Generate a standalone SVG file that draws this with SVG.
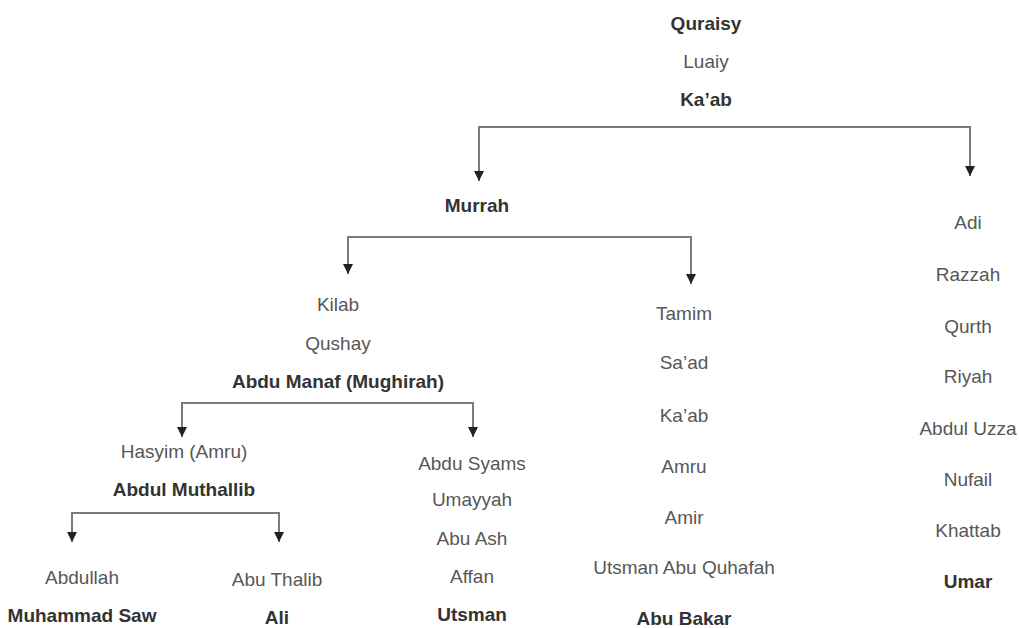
<svg xmlns="http://www.w3.org/2000/svg" width="1019" height="628" viewBox="0 0 1019 628">
<defs>
<marker id="arr" markerUnits="userSpaceOnUse" markerWidth="11" markerHeight="11" refX="10" refY="5" orient="auto">
<path d="M0,0 L10,5 L0,10 z" fill="#222"/>
</marker>
<style>
text{font-family:"Liberation Sans",Arial,sans-serif;font-size:19px;text-anchor:middle;fill:#575757}
text.b{font-weight:bold;fill:#333}
.c{fill:none;stroke:#7a7a7a;stroke-width:2;marker-end:url(#arr)}
</style>
</defs>
<rect width="1019" height="628" fill="#fff"/>
<g id="connectors">
<path class="c" d="M725 127 H479 V181"/>
<path class="c" d="M725 127 H970 V176"/>
<path class="c" d="M520 237 H348 V274"/>
<path class="c" d="M520 237 H691 V284"/>
<path class="c" d="M330 403 H182 V437"/>
<path class="c" d="M330 403 H473 V437"/>
<path class="c" d="M175 513 H72 V542"/>
<path class="c" d="M175 513 H279 V542"/>
</g>
<g id="n-quraisy"><text class="b" x="706" y="30">Quraisy</text></g>
<g id="n-luaiy"><text x="706" y="68">Luaiy</text></g>
<g id="n-kaab"><text class="b" x="706" y="106">Ka’ab</text></g>
<g id="n-murrah"><text class="b" x="477" y="212">Murrah</text></g>
<g id="n-kilab"><text x="338" y="311">Kilab</text></g>
<g id="n-qushay"><text x="338" y="350">Qushay</text></g>
<g id="n-abdumanaf"><text class="b" x="338" y="388">Abdu Manaf (Mughirah)</text></g>
<g id="n-hasyim"><text x="184" y="458">Hasyim (Amru)</text></g>
<g id="n-abdulmuthallib"><text class="b" x="184" y="496">Abdul Muthallib</text></g>
<g id="n-abdullah"><text x="82" y="584">Abdullah</text></g>
<g id="n-muhammad"><text class="b" x="82" y="622">Muhammad Saw</text></g>
<g id="n-abuthalib"><text x="277" y="586">Abu Thalib</text></g>
<g id="n-ali"><text class="b" x="277" y="624">Ali</text></g>
<g id="n-abdusyams"><text x="472" y="470">Abdu Syams</text></g>
<g id="n-umayyah"><text x="472" y="506">Umayyah</text></g>
<g id="n-abuash"><text x="472" y="545">Abu Ash</text></g>
<g id="n-affan"><text x="472" y="583">Affan</text></g>
<g id="n-utsman"><text class="b" x="472" y="621">Utsman</text></g>
<g id="n-tamim"><text x="684" y="320">Tamim</text></g>
<g id="n-saad"><text x="684" y="369">Sa’ad</text></g>
<g id="n-kaab2"><text x="684" y="422">Ka’ab</text></g>
<g id="n-amru"><text x="684" y="473">Amru</text></g>
<g id="n-amir"><text x="684" y="524">Amir</text></g>
<g id="n-utsmanabuquhafah"><text x="684" y="574">Utsman Abu Quhafah</text></g>
<g id="n-abubakar"><text class="b" x="684" y="625">Abu Bakar</text></g>
<g id="n-adi"><text x="968" y="229">Adi</text></g>
<g id="n-razzah"><text x="968" y="281">Razzah</text></g>
<g id="n-qurth"><text x="968" y="333">Qurth</text></g>
<g id="n-riyah"><text x="968" y="383">Riyah</text></g>
<g id="n-abduluzza"><text x="968" y="435">Abdul Uzza</text></g>
<g id="n-nufail"><text x="968" y="486">Nufail</text></g>
<g id="n-khattab"><text x="968" y="537">Khattab</text></g>
<g id="n-umar"><text class="b" x="968" y="588">Umar</text></g>
</svg>
